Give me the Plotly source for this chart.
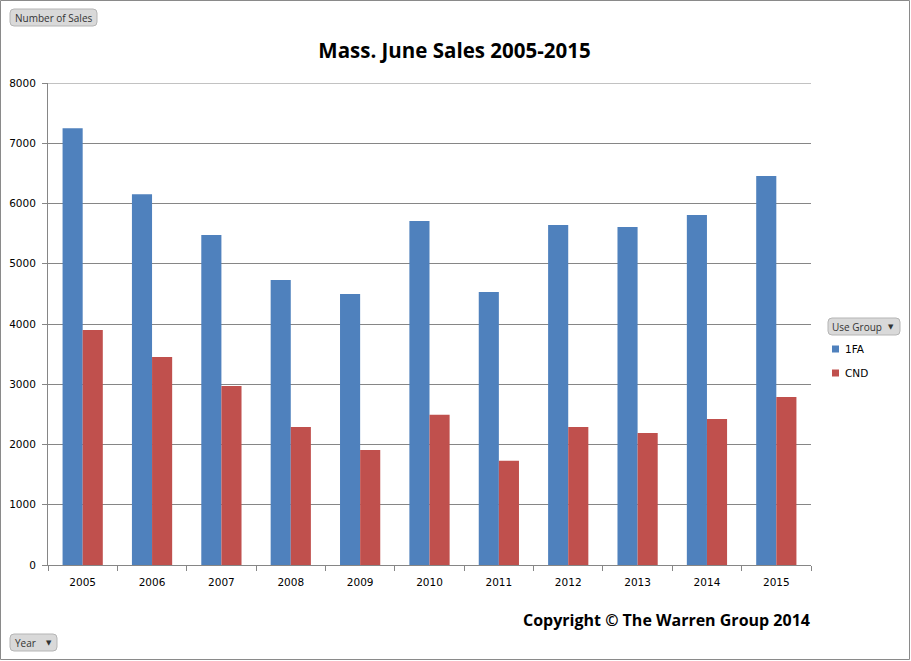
import plotly.graph_objects as go

years = ["2005", "2006", "2007", "2008", "2009", "2010", "2011", "2012", "2013", "2014", "2015"]
series_names = ["1FA", "CND"]
sales_1fa = [7248, 6153, 5477, 4730, 4498, 5710, 4531, 5643, 5610, 5809, 6456]
sales_cnd = [3900, 3452, 2971, 2290, 1909, 2495, 1731, 2290, 2191, 2423, 2788]
y_ticks = [0, 1000, 2000, 3000, 4000, 5000, 6000, 7000, 8000]
colors = ["#4F81BD", "#C0504D"]

W, H = 911, 661
L, R, T, B = 48, 811, 83, 565
PW, PH = R - L, B - T


def px(x):
    return (x - L) / PW


def py(y):
    return (B - y) / PH


def rounded_rect(x0, y0, x1, y1, r=4):
    rx, ry = r / PW, r / PH
    X0, X1 = px(x0), px(x1)
    Y0, Y1 = py(y0), py(y1)
    return (f"M {X0+rx},{Y0} L {X1-rx},{Y0} Q {X1},{Y0} {X1},{Y0-ry} "
            f"L {X1},{Y1+ry} Q {X1},{Y1} {X1-rx},{Y1} L {X0+rx},{Y1} "
            f"Q {X0},{Y1} {X0},{Y1+ry} L {X0},{Y0-ry} Q {X0},{Y0} {X0+rx},{Y0} Z")


fig = go.Figure()
for name, vals, col in zip(series_names, [sales_1fa, sales_cnd], colors):
    fig.add_trace(go.Bar(x=years, y=vals, name=name, marker=dict(color=col, line=dict(width=0)),
                         showlegend=False))

font_family = "Open Sans, DejaVu Sans, sans-serif"
tick_font = "DejaVu Sans, sans-serif"

shapes = []
shapes.append(dict(type="rect", xref="paper", yref="paper",
                   x0=px(0.5), x1=px(W - 1.5), y0=py(0.5), y1=py(H - 1.5),
                   line=dict(color="#8a8a8a", width=1), fillcolor="rgba(0,0,0,0)", layer="below"))
shapes.append(dict(type="line", xref="paper", yref="y", x0=px(43), x1=1, y0=y_ticks[-1], y1=y_ticks[-1],
                   line=dict(color="#868686", width=1), layer="below"))
for (x0, y0, x1, y1) in [(10, 9, 97, 26), (10, 634, 57, 651), (828, 318, 900, 335)]:
    shapes.append(dict(type="path", xref="paper", yref="paper", path=rounded_rect(x0, y0, x1, y1),
                       line=dict(color="#b5b5b5", width=1), fillcolor="#d9d9d9"))

annotations = [
    dict(text="Number of Sales", x=px(13), y=py(17.5), xref="paper", yref="paper", xanchor="left", yanchor="middle",
         showarrow=False, font=dict(family=font_family, size=10, color="#333333")),
    dict(text="Year", x=px(13), y=py(642.5), xref="paper", yref="paper", xanchor="left", yanchor="middle",
         showarrow=False, font=dict(family=font_family, size=10, color="#333333")),
    dict(text="▼", x=px(49), y=py(642.5), xref="paper", yref="paper", xanchor="center", yanchor="middle",
         showarrow=False, font=dict(family="DejaVu Sans", size=7, color="#333333")),
    dict(text="Use Group", x=px(830), y=py(326.5), xref="paper", yref="paper", xanchor="left", yanchor="middle",
         showarrow=False, font=dict(family=font_family, size=10, color="#333333")),
    dict(text="▼", x=px(891), y=py(326.5), xref="paper", yref="paper", xanchor="center", yanchor="middle",
         showarrow=False, font=dict(family="DejaVu Sans", size=7, color="#333333")),
    dict(text="<b>Copyright © The Warren Group 2014</b>", x=px(812), y=py(620), xref="paper", yref="paper",
         xanchor="right", yanchor="middle", showarrow=False,
         font=dict(family=font_family, size=16, color="#000000")),
]

for i, (name, col) in enumerate(zip(series_names, colors)):
    cy = 349 + 24 * i
    shapes.append(dict(type="rect", xref="paper", yref="paper", x0=px(832), x1=px(839),
                       y0=py(cy - 3.5), y1=py(cy + 3.5), line=dict(width=0), fillcolor=col))
    annotations.append(dict(text=name, x=px(843), y=py(cy), xref="paper", yref="paper", xanchor="left",
                            yanchor="middle", showarrow=False,
                            font=dict(family=tick_font, size=10.5, color="black")))

fig.update_layout(
    width=W, height=H,
    margin=dict(l=L, r=W - R, t=T, b=H - B, pad=0, autoexpand=False),
    paper_bgcolor="white", plot_bgcolor="white",
    title=dict(text="<b>Mass. June Sales 2005-2015</b>", xref="container", x=454.5 / W, xanchor="center",
               yref="container", y=1 - 51 / H, yanchor="middle",
               font=dict(family=font_family, size=20.5, color="black")),
    barmode="group", bargap=0.42, bargroupgap=0,
    showlegend=False,
    shapes=shapes, annotations=annotations,
)

fig.update_xaxes(type="category", showline=True, linecolor="#868686", linewidth=1, automargin=False,
                 ticks="outside", ticklen=5, tickcolor="#868686", tickson="boundaries",
                 ticklabelstandoff=7,
                 tickfont=dict(family=tick_font, size=10.5, color="black"), showgrid=False, mirror=False)
fig.update_yaxes(range=[0, 8000], tickvals=y_ticks, showline=True, linecolor="#868686", linewidth=1,
                 automargin=False,
                 ticks="outside", ticklen=5, tickcolor="#868686", showgrid=True, gridcolor="#868686",
                 gridwidth=1, zeroline=False, ticklabelstandoff=4,
                 tickfont=dict(family=tick_font, size=10.5, color="black"))

fig.write_html("out.html", config={"displayModeBar": False},
               post_script="document.body.style.margin='0';")
